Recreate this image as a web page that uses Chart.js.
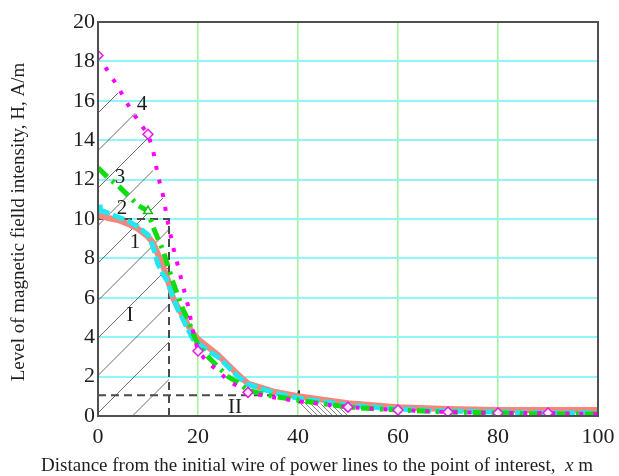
<!DOCTYPE html>
<html>
<head>
<meta charset="utf-8">
<script src="https://cdn.jsdelivr.net/npm/chart.js@4.4.1/dist/chart.umd.min.js"></script>
<style>
  html, body { margin: 0; padding: 0; background: #fff; }
  #wrap { width: 619px; height: 476px; }
</style>
</head>
<body>
<div id="wrap"><canvas id="fieldChart"></canvas></div>
<script>
// distance from the first wire, m
const distance = [0, 2, 4, 6, 8, 10, 11, 12, 13, 14, 15, 16, 17, 18, 19, 20, 22, 24, 26, 28, 30, 35, 40, 50, 60, 70, 80, 90, 100];

// field intensity H, A/m, for the four variants
const curve1 = [10.2, 10.05, 9.95, 9.75, 9.5, 9.1, 8.8, 8.2, 7.6, 6.9, 6.0, 5.5, 5.1, 4.6, 4.2, 3.9, 3.5, 3.1, 2.6, 2.1, 1.65, 1.25, 1.0, 0.65, 0.45, 0.35, 0.3, 0.3, 0.3];
const curve2 = [10.5, 10.3, 10.1, 9.9, 9.6, 9.2, 8.6, 7.7, 7.2, 6.8, 6.0, 5.4, 4.9, 4.4, 3.9, 3.7, 3.3, 3.0, 2.5, 2.0, 1.6, 1.2, 0.9, 0.55, 0.35, 0.25, 0.2, 0.15, 0.15];
const curve3 = [12.6, 12.1, 11.7, 11.2, 10.7, 10.4, 9.6, 9.0, 8.4, 7.6, 6.8, 6.1, 5.4, 4.9, 4.2, 3.6, 3.0, 2.5, 2.0, 1.7, 1.3, 1.0, 0.8, 0.45, 0.3, 0.2, 0.15, 0.1, 0.1];
const curve4 = [18.3, 17.5, 16.7, 15.8, 15.0, 14.3, 13.5, 12.2, 11.2, 9.8, 8.6, 7.6, 6.6, 5.6, 4.3, 3.3, 2.7, 2.3, 1.8, 1.5, 1.2, 0.95, 0.75, 0.45, 0.3, 0.2, 0.15, 0.15, 0.1];

// where the symbols sit on each curve
const diamondAt = [0, 10, 20, 30, 50, 60, 70, 80, 90];
const triangleAt = [10];
const squareAt = [0];

const xTickValues = [0, 20, 40, 60, 80, 100];
const yTickValues = [0, 2, 4, 6, 8, 10, 12, 14, 16, 18, 20];

// zone I (hatched) and zone II outlines
const zoneIX = [0, 0, 4.4, 7.4, 10, 11, 12.8, 14.2, 14.2];
const zoneIY = [0, 16.4, 16.4, 15.4, 14.3, 12.4, 11.3, 10, 0];
const zoneIIX = [40.6, 40.6, 45, 50, 50];
const zoneIIY = [0, 0.75, 0.62, 0.45, 0];

// dashed guide lines (limits)
const limitI = { x: [0, 14.2, 14.2], y: [10, 10, 0] };
const limitII = { x: [0, 40], y: [1.05, 1.05] };

// curve numbers and zone names
const noteText = ["4", "3", "2", "1", "I", "II"];
const noteX = [8.8, 4.4, 4.8, 7.4, 6.4, 27.4];
const noteY = [15.8, 12.1, 10.55, 8.8, 5.1, 0.45];

const serif = "'Liberation Serif', 'Times New Roman', serif";

const toPoints = (vals) => distance.map((d, i) => ({ x: d, y: vals[i] }));
const markerRadius = (list, r) => (ctx) => (ctx.raw && list.includes(ctx.raw.x) ? r : 0);

const tracePath = (ctx, xs, ys, sx, sy) => {
    ctx.beginPath();
    xs.forEach((v, i) => {
        const px = sx.getPixelForValue(v);
        const py = sy.getPixelForValue(ys[i]);
        if (i === 0) ctx.moveTo(px, py); else ctx.lineTo(px, py);
    });
};

const zonesPlugin = {
    id: "zones",
    beforeDatasetsDraw(chart) {
        const { ctx, scales: { x, y } } = chart;

        // zone I: thin lines rising to the right
        ctx.save();
        tracePath(ctx, zoneIX, zoneIY, x, y);
        ctx.closePath();
        ctx.clip();
        ctx.strokeStyle = "#6b6b6b";
        ctx.lineWidth = 1;
        ctx.beginPath();
        for (let k = -12; k <= 4; k++) {
            const c = y.bottom - 3 + 37.5 * k;
            ctx.moveTo(x.left, c);
            ctx.lineTo(x.left + 400, c - 400);
        }
        ctx.stroke();
        ctx.restore();

        // zone II: short back-slash hatching under the curves
        ctx.save();
        tracePath(ctx, zoneIIX, zoneIIY, x, y);
        ctx.closePath();
        ctx.clip();
        ctx.strokeStyle = "#8a8a8a";
        ctx.lineWidth = 1;
        ctx.beginPath();
        for (let px = x.getPixelForValue(39); px < x.getPixelForValue(52); px += 5) {
            ctx.moveTo(px, y.bottom - 20);
            ctx.lineTo(px + 20, y.bottom);
        }
        ctx.stroke();
        ctx.restore();

        // dashed limit lines
        ctx.save();
        ctx.strokeStyle = "#4a4a4a";
        ctx.lineWidth = 2;
        ctx.setLineDash([8, 5]);
        tracePath(ctx, limitI.x, limitI.y, x, y);
        ctx.stroke();
        tracePath(ctx, limitII.x, limitII.y, x, y);
        ctx.stroke();
        ctx.setLineDash([]);
        // end stop of the zone II line
        const ex = x.getPixelForValue(limitII.x[1]);
        const ey = y.getPixelForValue(limitII.y[1]);
        ctx.fillStyle = "#333";
        ctx.fillRect(ex, ey - 5, 2, 13);
        ctx.beginPath();
        ctx.moveTo(ex - 6, ey + 1);
        ctx.lineTo(ex, ey - 3);
        ctx.lineTo(ex, ey + 5);
        ctx.closePath();
        ctx.fill();
        ctx.restore();
    },
    afterDatasetsDraw(chart) {
        const { ctx, chartArea: a, scales: { x, y } } = chart;
        ctx.save();
        // plot frame
        ctx.strokeStyle = "#505050";
        ctx.lineWidth = 2;
        ctx.strokeRect(a.left, a.top, a.right - a.left, a.bottom - a.top);

        // curve numbers and zone names
        ctx.fillStyle = "#1e1e1e";
        ctx.font = "21px " + serif;
        ctx.textAlign = "center";
        ctx.textBaseline = "middle";
        noteText.forEach((t, i) => {
            ctx.fillText(t, x.getPixelForValue(noteX[i]), y.getPixelForValue(noteY[i]));
        });

        // axis titles
        const titleFont = "19px " + serif;
        ctx.font = titleFont;
        ctx.textBaseline = "alphabetic";
        const left = "Distance from the initial wire of power lines to the point of interest,  ";
        const wLeft = ctx.measureText(left).width;
        ctx.font = "italic " + titleFont;
        const wX = ctx.measureText("x").width;
        ctx.font = titleFont;
        const wUnit = ctx.measureText(" m").width;
        const tx = 317 - (wLeft + wX + wUnit) / 2;
        ctx.textAlign = "left";
        ctx.fillText(left, tx, 471);
        ctx.font = "italic " + titleFont;
        ctx.fillText("x", tx + wLeft, 471);
        ctx.font = titleFont;
        ctx.fillText(" m", tx + wLeft + wX, 471);

        ctx.translate(24, 222);
        ctx.rotate(-Math.PI / 2);
        ctx.textAlign = "center";
        ctx.fillText("Level of magnetic fielld intensity, H, A/m", 0, 0);
        ctx.restore();
    }
};

const ctx = document.getElementById("fieldChart").getContext("2d");
const fieldChart = new Chart(ctx, {
    type: "line",
    data: {
        datasets: [
            {
                label: "4",
                data: toPoints(curve4),
                borderColor: "#ff00ff",
                borderWidth: 4,
                borderDash: [4, 10],
                pointStyle: "rectRot",
                pointRadius: markerRadius(diamondAt, 5),
                pointBorderColor: "#e020e0",
                pointBackgroundColor: "#ffe8ff",
                pointBorderWidth: 1.5,
                order: 1,
            },
            {
                label: "3",
                data: toPoints(curve3),
                borderColor: "#10dd10",
                borderWidth: 5,
                borderDash: [13, 6, 3, 6],
                pointStyle: "triangle",
                pointRadius: markerRadius(triangleAt, 5),
                pointBorderColor: "#10c010",
                pointBackgroundColor: "#ffffff",
                pointBorderWidth: 1.5,
                order: 2,
            },
            {
                label: "2",
                data: toPoints(curve2),
                borderColor: "#22e6f0",
                borderWidth: 5,
                borderDash: [12, 4],
                pointStyle: "rect",
                pointRadius: markerRadius(squareAt, 3),
                pointBorderColor: "#22e6f0",
                pointBackgroundColor: "#22e6f0",
                order: 3,
            },
            {
                label: "1",
                data: toPoints(curve1),
                borderColor: "#f4877c",
                borderWidth: 6,
                pointRadius: 0,
                order: 4,
            },
        ],
    },
    options: {
        responsive: true,
        maintainAspectRatio: false,
        animation: false,
        events: [],
        layout: { padding: { left: 0, right: 21, top: 22, bottom: 0 } },
        plugins: {
            legend: { display: false },
            tooltip: { enabled: false },
        },
        elements: { line: { tension: 0, borderCapStyle: "butt" } },
        scales: {
            x: {
                type: "linear",
                min: 0,
                max: 100,
                afterBuildTicks: (scale) => { scale.ticks = xTickValues.map((v) => ({ value: v })); },
                afterFit: (scale) => {
                    scale.height = 60;
                    scale.paddingLeft = 0;
                    scale.paddingRight = 0;
                },
                ticks: {
                    font: { family: serif, size: 22 },
                    color: "#1e1e1e",
                    padding: 8,
                    maxRotation: 0,
                },
                grid: {
                    color: (c) => (c.tick && (c.tick.value === 0 || c.tick.value === 100) ? "rgba(0,0,0,0)" : "#9cf59c"),
                    lineWidth: 1.5,
                    drawTicks: false,
                },
                border: { display: false },
            },
            y: {
                min: 0,
                max: 20,
                afterBuildTicks: (scale) => { scale.ticks = yTickValues.map((v) => ({ value: v })); },
                afterFit: (scale) => {
                    scale.width = 98;
                    scale.paddingTop = 0;
                    scale.paddingBottom = 0;
                },
                ticks: {
                    font: { family: serif, size: 22 },
                    color: "#1e1e1e",
                    padding: 3,
                },
                grid: {
                    color: (c) => (c.tick && (c.tick.value === 0 || c.tick.value === 20) ? "rgba(0,0,0,0)" : "#8ff7f7"),
                    lineWidth: 2,
                    drawTicks: false,
                },
                border: { display: false },
            },
        },
    },
    plugins: [zonesPlugin],
});
</script>
</body>
</html>
